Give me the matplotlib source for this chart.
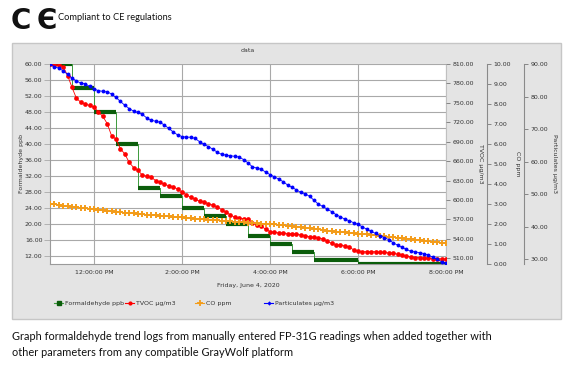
import matplotlib
matplotlib.use('Agg')
import matplotlib.pyplot as plt
import matplotlib.dates as mdates
from matplotlib.lines import Line2D
from matplotlib.patches import Rectangle
from matplotlib.ticker import FormatStrFormatter
import pandas as pd

# sample times of the logger (every 6 minutes, 11:00 -> 20:00)
times = pd.date_range('2020-06-04 11:00', periods=91, freq='6min')

# formaldehyde: manually entered FP-31G readings (held until next reading)
hcho_start = ['11:00', '11:30', '12:00', '12:30', '13:00', '13:30', '14:00',
              '14:30', '15:00', '15:30', '16:00', '16:30', '17:00', '18:00']
hcho_end = ['11:30', '12:00', '12:30', '13:00', '13:30', '14:00', '14:30',
            '15:00', '15:30', '16:00', '16:30', '17:00', '18:00', '20:00']
hcho_ppb = [60, 54, 48, 40, 29, 27, 24, 22, 20, 17, 15, 13, 11, 10]

tvoc = [810, 809, 808, 806, 792, 774, 757, 751, 748, 746,
        743, 736, 729, 718, 699, 694, 679, 671, 658, 650,
        646, 638, 637, 635, 630, 627, 624, 622, 620, 617,
        612, 608, 604, 601, 598, 597, 594, 592, 589, 585,
        581, 577, 573, 572, 571, 570, 565, 562, 559, 555,
        551, 550, 549, 549, 548, 548, 547, 546, 545, 543,
        542, 541, 540, 536, 533, 531, 530, 529, 527, 523,
        521, 520, 520, 520, 520, 519, 519, 518, 518, 516,
        515, 513, 512, 511, 511, 510, 510, 509, 509, 509,
        508]

co = [3.00, 2.98, 2.95, 2.92, 2.88, 2.86, 2.84, 2.80, 2.78, 2.76,
      2.73, 2.71, 2.69, 2.67, 2.63, 2.62, 2.60, 2.56, 2.54, 2.53,
      2.50, 2.49, 2.46, 2.45, 2.44, 2.42, 2.40, 2.38, 2.36, 2.35,
      2.33, 2.31, 2.29, 2.27, 2.26, 2.24, 2.22, 2.20, 2.18, 2.17,
      2.15, 2.13, 2.12, 2.10, 2.08, 2.07, 2.05, 2.03, 2.02, 2.01,
      2.00, 1.98, 1.96, 1.94, 1.92, 1.90, 1.87, 1.84, 1.80, 1.78,
      1.75, 1.73, 1.70, 1.67, 1.65, 1.62, 1.60, 1.58, 1.56, 1.54,
      1.52, 1.50, 1.48, 1.46, 1.44, 1.42, 1.40, 1.37, 1.34, 1.32,
      1.30, 1.27, 1.25, 1.22, 1.20, 1.17, 1.15, 1.12, 1.10, 1.07,
      1.05]

particulates = [90.0, 89.2, 88.7, 87.9, 86.8, 85.7, 84.8, 84.1, 83.9, 83.1,
                82.3, 81.8, 81.6, 81.4, 80.8, 79.7, 78.5, 77.3, 76.3, 75.5,
                75.1, 74.5, 73.4, 72.7, 72.4, 72.1, 71.2, 70.2, 69.1, 68.2,
                67.7, 67.5, 67.5, 67.1, 66.1, 65.3, 64.6, 63.8, 62.9, 62.2,
                62.0, 61.8, 61.6, 61.4, 60.6, 59.6, 58.4, 58.0, 57.6, 56.8,
                56.0, 55.3, 54.6, 53.8, 52.8, 52.1, 51.3, 50.5, 50.1, 49.3,
                48.1, 46.9, 46.2, 45.4, 44.6, 43.7, 43.0, 42.3, 41.8, 41.2,
                40.7, 39.9, 39.2, 38.5, 37.9, 37.2, 36.6, 36.0, 35.0, 34.3,
                33.6, 33.0, 32.4, 32.2, 32.0, 31.7, 31.2, 30.6, 29.9, 29.2,
                28.8]

legend_labels = ['Formaldehyde ppb', 'TVOC µg/m3', 'CO ppm', 'Particulates µg/m3']
caption = ['Graph formaldehyde trend logs from manually entered FP-31G readings when added together with',
           'other parameters from any compatible GrayWolf platform']

GREEN, GREEN_LT = '#0b5d0b', '#3c9a3c'
RED, ORANGE, BLUE = '#ff0000', '#f39c1a', '#0000ff'
GRID = '#a9a9a9'
TXT = '#333333'
FS = 4.5

W, H = 581, 371


def fx(px):
    return px / W


def fy(py):
    return 1 - py / H


def style_axis(a, color):
    a.tick_params(axis='y', length=3, width=0.6, color=color, labelsize=FS,
                  labelcolor=TXT, pad=1.5)
    a.yaxis.set_major_formatter(FormatStrFormatter('%.2f'))


def main():
    fig = plt.figure(figsize=(W / 100, H / 100), dpi=100)
    fig.patches.append(Rectangle((fx(12), fy(319)), fx(561) - fx(12), fy(43) - fy(319),
                                 transform=fig.transFigure, facecolor='#e4e4e4',
                                 edgecolor='#c6c6c6', lw=1, zorder=-5))

    ax = fig.add_axes([fx(50), fy(264), fx(446) - fx(50), fy(64) - fy(264)])
    ax.set_facecolor('white')

    # formaldehyde as held readings
    st = pd.to_datetime(['2020-06-04 ' + t for t in hcho_start])
    en = pd.to_datetime(['2020-06-04 ' + t for t in hcho_end])
    ax.plot(list(st) + [en[-1]], hcho_ppb + [hcho_ppb[-1]], drawstyle='steps-post',
            color=GREEN_LT, lw=0.7, zorder=3)
    ax.hlines(hcho_ppb, st, en, color=GREEN, lw=3.0, zorder=4)

    ax.set_xlim(pd.Timestamp('2020-06-04 11:00'), pd.Timestamp('2020-06-04 20:00'))
    ax.set_ylim(10, 60)
    ax.set_yticks(range(12, 61, 4))
    style_axis(ax, GRID)
    ax.tick_params(axis='y', length=4)
    ax.xaxis.set_major_locator(mdates.HourLocator(byhour=[12, 14, 16, 18, 20]))
    ax.xaxis.set_major_formatter(mdates.DateFormatter('%-I:%M:%S %p'))
    ax.tick_params(axis='x', length=0, labelsize=FS, labelcolor=TXT, pad=4)
    ax.grid(True, color=GRID, lw=0.8)
    ax.set_axisbelow(True)
    for s in ax.spines.values():
        s.set_color('#9a9a9a')
        s.set_linewidth(0.8)
    ax.spines['top'].set_visible(False)
    ax.spines['right'].set_color('#c0c0c0')
    ax.set_title('data', fontsize=FS, color=TXT, pad=8.5)

    ax_t = ax.twinx()
    ax_t.plot(times, tvoc, color=RED, lw=0.6, marker='o', ms=3.4, mew=0, zorder=3)
    ax_t.set_ylim(501, 810)
    ax_t.set_yticks(range(510, 811, 30))
    style_axis(ax_t, '#777777')

    ax_c = ax.twinx()
    ax_c.plot(times, co, color=ORANGE, lw=0.6, marker='+', ms=4.5, mew=1.4, zorder=3)
    ax_c.set_ylim(0, 10)
    ax_c.set_yticks(range(0, 11))
    ax_c.spines['right'].set_position(('axes', (487 - 50) / 396))
    style_axis(ax_c, '#777777')

    ax_p = ax.twinx()
    ax_p.plot(times, particulates, color=BLUE, lw=0.6, marker='o', ms=2.8, mew=0, zorder=3)
    ax_p.set_ylim(28.5, 90)
    ax_p.set_yticks(range(30, 91, 10))
    ax_p.spines['right'].set_position(('axes', (524 - 50) / 396))
    style_axis(ax_p, '#777777')

    for a in (ax_t, ax_c, ax_p):
        for k in ('top', 'bottom', 'left'):
            a.spines[k].set_visible(False)
        a.spines['right'].set_color('#8a8a8a')
        a.spines['right'].set_linewidth(0.8)
    ax_t.spines['right'].set_visible(False)

    # axis titles
    fig.text(fx(21), fy(164), 'Formaldehyde ppb', rotation=90, ha='center', va='center',
             fontsize=FS, color=TXT)
    for xp, lab in ((481, 'TVOC µg/m3'), (517.5, 'CO ppm'), (554.5, 'Particulates µg/m3')):
        fig.text(fx(xp), fy(164), lab, rotation=270, ha='center', va='center',
                 fontsize=FS, color=TXT)
    fig.text(fx(248), fy(285), 'Friday, June 4, 2020', ha='center', va='center',
             fontsize=FS, color=TXT)

    # legend, one slot per series
    handles = [
        Line2D([], [], color=GREEN_LT, lw=0.8, marker='s', ms=3, mfc=GREEN, mec=GREEN),
        Line2D([], [], color=RED, lw=0.8, marker='o', ms=3, mew=0),
        Line2D([], [], color=ORANGE, lw=0.8, marker='+', ms=4, mew=1.3),
        Line2D([], [], color=BLUE, lw=0.8, marker='D', ms=2.2, mew=0),
    ]
    for xp, h, lab in zip((54, 125, 195, 264), handles, legend_labels):
        fig.legend([h], [lab], loc='center left', bbox_to_anchor=(fx(xp), fy(303)),
                   frameon=False, fontsize=FS, borderpad=0, borderaxespad=0,
                   handlelength=1.45, handletextpad=0.3, labelcolor=TXT)

    # header and caption
    fig.text(fx(11), fy(21), 'C', fontsize=20, fontweight='bold', color='#111111',
             va='center', ha='left')
    fig.text(fx(37), fy(21), 'Є', fontsize=20, fontweight='bold', color='#111111',
             va='center', ha='left')
    fig.text(fx(58), fy(18), 'Compliant to CE regulations', fontsize=6.7,
             family=['Lato', 'DejaVu Sans'], color='#111111', va='center')
    for i, line in enumerate(caption):
        fig.text(fx(12), fy(336 + 17 * i), line, fontsize=7.9,
                 family=['Lato', 'DejaVu Sans'], color='#111111', va='center')

    fig.savefig('out.png', dpi=100, facecolor='white')


if __name__ == '__main__':
    main()
